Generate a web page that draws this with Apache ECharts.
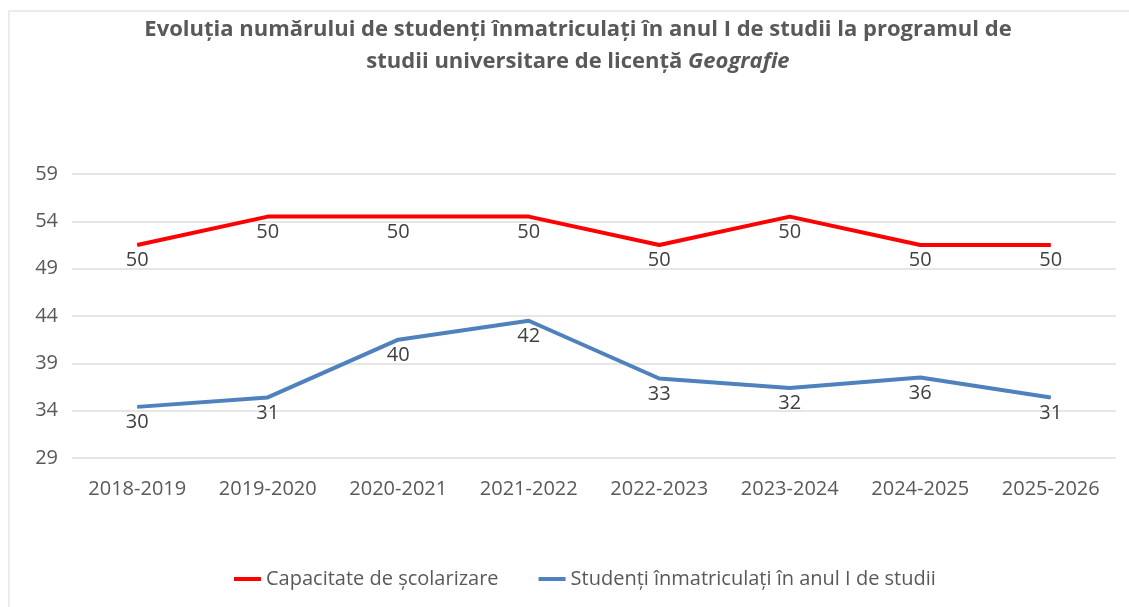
<!DOCTYPE html>
<html>
<head>
<meta charset="utf-8">
<script src="https://cdn.jsdelivr.net/npm/echarts@6/dist/echarts.min.js"></script>
<style>
html,body{margin:0;padding:0;background:#fff;}
#c{width:1129px;height:607px;}
</style>
</head>
<body>
<div id="c"></div>
<script>
// Categories (academic years)
var categories = ['2018-2019','2019-2020','2020-2021','2021-2022','2022-2023','2023-2024','2024-2025','2025-2026'];
// Plotted line levels (on the 29–59 axis)
var capacitateLine = [51.5, 54.5, 54.5, 54.5, 51.5, 54.5, 51.5, 51.5];
var studentiLine   = [34.4, 35.4, 41.5, 43.5, 37.4, 36.4, 37.5, 35.4];
// Data labels shown on the chart
var capacitateLabels = [50, 50, 50, 50, 50, 50, 50, 50];
var studentiLabels   = [30, 31, 40, 42, 33, 32, 36, 31];
// Y-axis tick labels
var yTicks = [29, 34, 39, 44, 49, 54, 59];
var seriesNames = ['Capacitate de școlarizare', 'Studenți înmatriculați în anul I de studii'];

var FONT = '"Open Sans", "Noto Sans", sans-serif';
var chart = echarts.init(document.getElementById('c'), null, {renderer:'canvas'});
chart.setOption({
  backgroundColor: '#ffffff',
  animation: false,
  graphic: [{
    type: 'rect', silent: true, z: -10,
    shape: {x: 9, y: 11, width: 1200, height: 700},
    style: {fill: 'none', stroke: '#ebebeb', lineWidth: 2}
  }],
  title: {
    text: 'Evoluția numărului de studenți înmatriculați în anul I de studii la programul de\nstudii universitare de licență {i|Geografie}',
    left: 578,
    top: 14,
    padding: 0,
    textAlign: 'center',
    textStyle: {
      fontFamily: FONT, fontSize: 22, fontWeight: 'bold', color: '#595959', lineHeight: 32,
      rich: {
        i: {fontFamily: FONT, fontSize: 22, fontWeight: 'bold', fontStyle: 'italic', color: '#595959', lineHeight: 32}
      }
    }
  },
  legend: {
    data: seriesNames,
    left: 229,
    top: 564,
    icon: 'rect',
    itemWidth: 27,
    itemHeight: 4,
    itemGap: 40,
    textStyle: {fontFamily: FONT, fontSize: 20, color: '#595959'}
  },
  grid: {left: 72, right: 13, top: 174, bottom: 149},
  xAxis: {
    type: 'category',
    data: categories,
    boundaryGap: true,
    axisLine: {show: false},
    axisTick: {show: false},
    axisLabel: {fontFamily: FONT, fontSize: 20, color: '#595959', margin: 21, interval: 0}
  },
  yAxis: {
    type: 'value',
    min: yTicks[0],
    max: yTicks[yTicks.length - 1],
    interval: yTicks[1] - yTicks[0],
    axisLine: {show: false},
    axisTick: {show: false},
    axisLabel: {fontFamily: FONT, fontSize: 20, color: '#595959', margin: 14},
    splitLine: {show: true, lineStyle: {color: '#dedede', width: 1.5}}
  },
  series: [
    {
      name: seriesNames[0],
      type: 'line',
      data: capacitateLine,
      symbol: 'circle',
      symbolSize: 1,
      showSymbol: true,
      itemStyle: {color: '#ff0000'},
      color: '#ff0000',
      lineStyle: {color: '#ff0000', width: 4},
      label: {
        show: true, position: 'bottom', distance: 5,
        fontFamily: FONT, fontSize: 20, color: '#404040',
        formatter: function (p) { return String(capacitateLabels[p.dataIndex]); }
      }
    },
    {
      name: seriesNames[1],
      type: 'line',
      data: studentiLine,
      symbol: 'circle',
      symbolSize: 1,
      showSymbol: true,
      itemStyle: {color: '#4f81bd'},
      color: '#4f81bd',
      lineStyle: {color: '#4f81bd', width: 4},
      label: {
        show: true, position: 'bottom', distance: 5,
        fontFamily: FONT, fontSize: 20, color: '#404040',
        formatter: function (p) { return String(studentiLabels[p.dataIndex]); }
      }
    }
  ]
});
</script>
</body>
</html>
